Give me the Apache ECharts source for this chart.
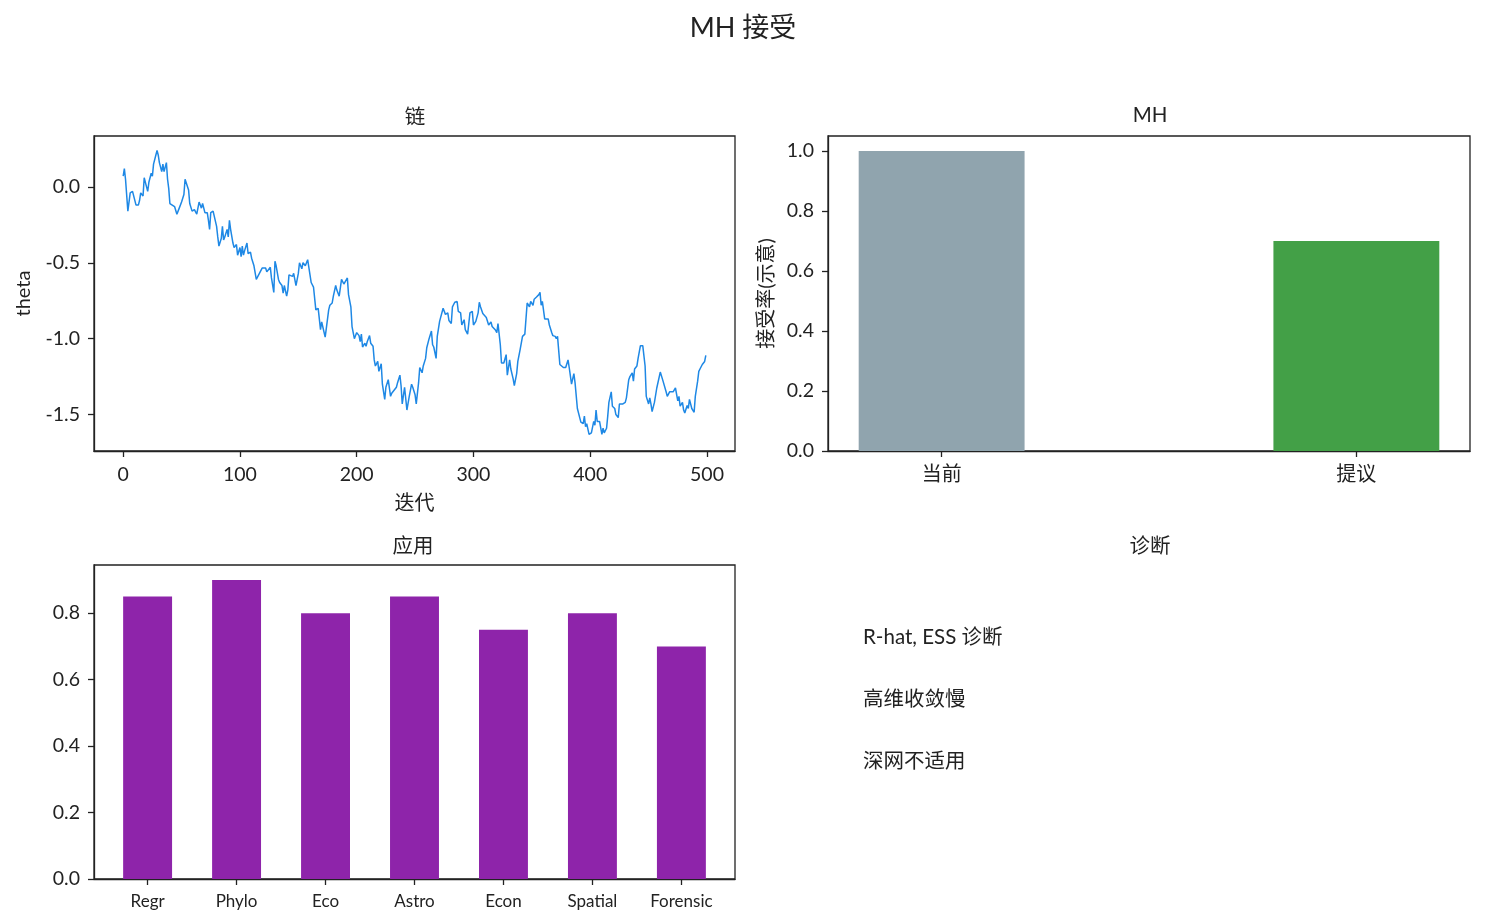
<!DOCTYPE html>
<html>
<head>
<meta charset="utf-8">
<title>MH 接受</title>
<script src="https://cdn.jsdelivr.net/npm/echarts@6/dist/echarts.min.js"></script>
<style>
  html, body { margin: 0; padding: 0; background: #fff; }
  #main { width: 1486px; height: 924px; }
</style>
</head>
<body>
<div id="main"></div>
<script>
// 链：迭代与 theta
const chainIter = [
  0, 1, 2, 4, 5, 6, 8, 9, 11, 13, 14, 15, 17, 18, 20, 21, 22, 23, 24, 25,
  26, 27, 28, 29, 30, 31, 32, 33, 34, 35, 36, 37, 38, 39, 40, 42, 44, 45, 46, 48,
  50, 52, 53, 54, 56, 57, 59, 60, 61, 63, 64, 65, 66, 67, 68, 69, 70, 72, 73, 74,
  75, 77, 78, 80, 81, 82, 84, 85, 86, 87, 89, 90, 91, 92, 94, 95, 97, 98, 100, 101,
  102, 103, 104, 106, 107, 109, 110, 112, 113, 114, 116, 117, 119, 120, 122, 123, 124, 126, 127, 129,
  130, 131, 133, 134, 136, 137, 138, 140, 141, 142, 143, 145, 146, 148, 149, 150, 151, 153, 154, 156,
  158, 160, 161, 163, 165, 167, 169, 170, 173, 174, 176, 177, 179, 180, 182, 183, 185, 187, 189, 190,
  192, 193, 195, 196, 198, 199, 200, 202, 203, 204, 205, 207, 208, 209, 211, 212, 214, 215, 216, 218,
  219, 221, 222, 224, 225, 227, 229, 230, 232, 234, 235, 237, 238, 239, 241, 243, 245, 247, 248, 250,
  251, 253, 254, 256, 257, 259, 260, 262, 264, 265, 266, 268, 269, 271, 272, 274, 275, 276, 278, 279,
  281, 282, 284, 286, 287, 289, 290, 292, 293, 295, 296, 297, 299, 300, 302, 304, 305, 306, 308, 309,
  311, 312, 313, 315, 316, 317, 319, 320, 321, 323, 324, 326, 328, 329, 331, 332, 334, 335, 337, 338,
  340, 342, 344, 346, 348, 349, 351, 352, 354, 356, 357, 358, 359, 361, 362, 364, 365, 367, 368, 370,
  371, 372, 374, 375, 377, 379, 381, 382, 384, 386, 387, 389, 391, 392, 394, 395, 396, 397, 399, 401,
  402, 403, 404, 405, 406, 408, 410, 411, 412, 414, 415, 416, 418, 419, 421, 422, 424, 425, 426, 428,
  430, 431, 433, 434, 436, 437, 438, 440, 441, 443, 444, 445, 447, 448, 450, 451, 452, 453, 455, 456,
  457, 458, 460, 461, 462, 463, 465, 466, 468, 469, 471, 472, 473, 475, 476, 477, 479, 480, 481, 483,
  484, 485, 487, 488, 489, 490, 492, 493, 494, 496, 497, 498, 499
];
const chainTheta = [
  0.07, 0.12, 0.05, -0.16, -0.17, -0.04, -0.03, -0.04, -0.12, -0.12, -0.09, -0.04, -0.06, 0.06, 0.00, -0.03, 0.03, 0.03, 0.09, 0.07,
  0.15, 0.16, 0.21, 0.24, 0.21, 0.16, 0.17, 0.10, 0.15, 0.10, 0.13, 0.16, 0.05, -0.01, -0.11, -0.12, -0.13, -0.14, -0.18, -0.14,
  -0.10, -0.05, 0.05, 0.04, -0.02, -0.11, -0.16, -0.155, -0.15, -0.18, -0.14, -0.10, -0.12, -0.14, -0.11, -0.11, -0.17, -0.17, -0.22, -0.28,
  -0.17, -0.16, -0.15, -0.26, -0.33, -0.39, -0.34, -0.26, -0.35, -0.33, -0.28, -0.33, -0.22, -0.28, -0.37, -0.40, -0.38, -0.45, -0.40, -0.46,
  -0.39, -0.45, -0.42, -0.37, -0.44, -0.43, -0.47, -0.52, -0.52, -0.61, -0.58, -0.59, -0.535, -0.545, -0.535, -0.56, -0.57, -0.53, -0.60, -0.695,
  -0.49, -0.52, -0.61, -0.63, -0.65, -0.70, -0.65, -0.72, -0.68, -0.58, -0.57, -0.59, -0.57, -0.65, -0.655, -0.57, -0.50, -0.54, -0.50, -0.52,
  -0.48, -0.58, -0.63, -0.66, -0.81, -0.80, -0.94, -0.89, -0.99, -0.93, -0.81, -0.78, -0.765, -0.72, -0.65, -0.68, -0.72, -0.61, -0.64, -0.63,
  -0.60, -0.71, -0.79, -0.92, -1.00, -1.01, -0.96, -0.98, -1.02, -0.97, -1.055, -1.03, -1.05, -1.02, -0.98, -1.03, -1.05, -1.14, -1.18, -1.15,
  -1.215, -1.165, -1.30, -1.40, -1.32, -1.27, -1.38, -1.36, -1.34, -1.32, -1.29, -1.24, -1.31, -1.43, -1.32, -1.47, -1.38, -1.30, -1.32, -1.37,
  -1.43, -1.29, -1.19, -1.225, -1.18, -1.13, -1.06, -1.00, -0.95, -1.04, -1.055, -1.13, -0.985, -0.886, -0.886, -0.80, -0.80, -0.84, -0.83, -0.88,
  -0.90, -0.79, -0.76, -0.755, -0.82, -0.83, -0.91, -0.875, -0.94, -0.97, -0.90, -0.83, -0.82, -0.91, -0.886, -0.83, -0.76, -0.79, -0.835, -0.835,
  -0.86, -0.87, -0.91, -0.89, -0.92, -0.91, -0.945, -0.96, -0.90, -1.04, -1.16, -1.16, -1.105, -1.24, -1.14, -1.20, -1.265, -1.31, -1.23, -1.15,
  -1.07, -0.985, -0.97, -0.765, -0.79, -0.755, -0.78, -0.74, -0.726, -0.71, -0.695, -0.78, -0.755, -0.87, -0.875, -0.87, -0.91, -0.96, -0.98, -0.985,
  -1.00, -0.985, -1.17, -1.18, -1.19, -1.19, -1.14, -1.19, -1.30, -1.23, -1.29, -1.46, -1.52, -1.55, -1.56, -1.51, -1.58, -1.56, -1.63, -1.62,
  -1.61, -1.545, -1.57, -1.47, -1.545, -1.545, -1.63, -1.59, -1.62, -1.59, -1.51, -1.42, -1.35, -1.445, -1.46, -1.50, -1.52, -1.43, -1.42, -1.43,
  -1.42, -1.39, -1.27, -1.25, -1.225, -1.28, -1.20, -1.18, -1.13, -1.046, -1.04, -1.046, -1.18, -1.38, -1.43, -1.39, -1.43, -1.48, -1.42, -1.43,
  -1.325, -1.32, -1.22, -1.225, -1.27, -1.27, -1.35, -1.38, -1.35, -1.36, -1.35, -1.36, -1.325, -1.41, -1.38, -1.445, -1.42, -1.47, -1.49, -1.44,
  -1.46, -1.40, -1.46, -1.46, -1.485, -1.38, -1.28, -1.215, -1.20, -1.17, -1.16, -1.15, -1.11
];
const chainTicksX = [0, 100, 200, 300, 400, 500];
const chainTicksY = [-1.5, -1.0, -0.5, 0.0];

// MH 接受率（示意）
const mhCategories = ['当前', '提议'];
const mhValues = [1.0, 0.7];
const rateTicks = [0, 0.2, 0.4, 0.6, 0.8, 1.0];

// 应用
const appCategories = ['Regr', 'Phylo', 'Eco', 'Astro', 'Econ', 'Spatial', 'Forensic'];
const appValues = [0.85, 0.9, 0.8, 0.85, 0.75, 0.8, 0.7];
const appTicks = [0, 0.2, 0.4, 0.6, 0.8];

// 诊断
const diagLines = ['R-hat, ESS 诊断', '高维收敛慢', '深网不适用'];

const INK = '#222222';
const FONT = "Lato, 'Noto Sans CJK SC', sans-serif";
const LINE_COLOR = '#1e88e5';
const MH_COLORS = ['#90a4ae', '#43a047'];
const APP_COLOR = '#8e24aa';

// 子图位置（像素）
const G = [
  { left: 94, top: 136, width: 641, height: 315 },
  { left: 828, top: 136, width: 642, height: 315 },
  { left: 94, top: 565, width: 641, height: 314 }
];

const MH_RANGE = [-0.274, 1.274];
const APP_RANGE = [-0.6025, 6.6025];

/**
 * 坐标轴通用样式
 */
function makeAxis(opt) {
  return {
    type: 'value',
    gridIndex: opt.grid,
    min: opt.min,
    max: opt.max,
    name: opt.name || '',
    nameLocation: 'middle',
    nameGap: opt.nameGap || 0,
    nameRotate: opt.nameRotate || 0,
    nameTextStyle: { color: INK, fontSize: 20, fontFamily: FONT },
    axisLine: { show: true, onZero: false, lineStyle: { color: INK, width: 1.3 } },
    axisTick: {
      show: true, inside: false, length: 6,
      customValues: opt.ticks,
      lineStyle: { color: INK, width: 1.3 }
    },
    axisLabel: {
      color: INK, fontSize: opt.fontSize || 19.5, fontFamily: FONT,
      margin: opt.margin || 14,
      customValues: opt.ticks,
      formatter: opt.formatter,
      showMinLabel: true,
      showMaxLabel: true
    },
    splitLine: { show: false }
  };
}

const fmt1 = v => v.toFixed(1);

const titles = [
  { text: 'MH 接受', left: 743, top: 28, size: 27 },
  { text: '链', left: 415, top: 117, size: 20.5 },
  { text: 'MH', left: 1150, top: 115, size: 20.5 },
  { text: '应用', left: 413, top: 546, size: 20.5 },
  { text: '诊断', left: 1150, top: 546, size: 20.5 }
].map(t => ({
  text: t.text,
  left: t.left,
  top: t.top,
  padding: 0,
  textAlign: 'center',
  textVerticalAlign: 'middle',
  textStyle: { color: INK, fontSize: t.size, fontWeight: 'normal', fontFamily: FONT }
}));

diagLines.forEach((line, i) => {
  titles.push({
    text: line,
    left: 863,
    top: 637 + i * 62,
    padding: 0,
    textAlign: 'left',
    textVerticalAlign: 'middle',
    textStyle: { color: INK, fontSize: 20.5, fontWeight: 'normal', fontFamily: FONT }
  });
});

const mhBarWidth = 0.4 * G[1].width / (MH_RANGE[1] - MH_RANGE[0]);
const appBarWidth = 0.55 * G[2].width / (APP_RANGE[1] - APP_RANGE[0]);

const option = {
  backgroundColor: '#ffffff',
  animation: false,
  title: titles,
  grid: G.map(g => Object.assign({
    show: true,
    borderColor: INK,
    borderWidth: 1.3,
    backgroundColor: 'transparent',
    containLabel: false
  }, g)),
  xAxis: [
    makeAxis({
      grid: 0, min: -25, max: 524, ticks: chainTicksX,
      formatter: v => String(v), name: '迭代', nameGap: 43
    }),
    makeAxis({
      grid: 1, min: MH_RANGE[0], max: MH_RANGE[1], ticks: [0, 1],
      formatter: v => mhCategories[Math.round(v)] || '', fontSize: 20
    }),
    makeAxis({
      grid: 2, min: APP_RANGE[0], max: APP_RANGE[1],
      ticks: appCategories.map((c, i) => i),
      formatter: v => appCategories[Math.round(v)] || '',
      fontSize: 17
    })
  ],
  yAxis: [
    makeAxis({
      grid: 0, min: -1.74, max: 0.335, ticks: chainTicksY,
      formatter: fmt1, name: 'theta', nameRotate: 90, nameGap: 60
    }),
    makeAxis({
      grid: 1, min: 0, max: 1.05, ticks: rateTicks,
      formatter: fmt1, name: '接受率(示意)', nameRotate: 90, nameGap: 51
    }),
    makeAxis({
      grid: 2, min: 0, max: 0.945, ticks: appTicks,
      formatter: fmt1
    })
  ],
  series: [
    {
      type: 'line',
      xAxisIndex: 0,
      yAxisIndex: 0,
      data: chainIter.map((x, i) => [x, chainTheta[i]]),
      showSymbol: false,
      symbol: 'none',
      lineStyle: { color: LINE_COLOR, width: 1.5 }
    },
    {
      type: 'bar',
      xAxisIndex: 1,
      yAxisIndex: 1,
      barWidth: mhBarWidth,
      data: mhValues.map((v, i) => ({ value: [i, v], itemStyle: { color: MH_COLORS[i] } }))
    },
    {
      type: 'bar',
      xAxisIndex: 2,
      yAxisIndex: 2,
      barWidth: appBarWidth,
      itemStyle: { color: APP_COLOR },
      data: appValues.map((v, i) => [i, v])
    }
  ]
};

const myChart = echarts.init(document.getElementById('main'));
myChart.setOption(option);
</script>
</body>
</html>
